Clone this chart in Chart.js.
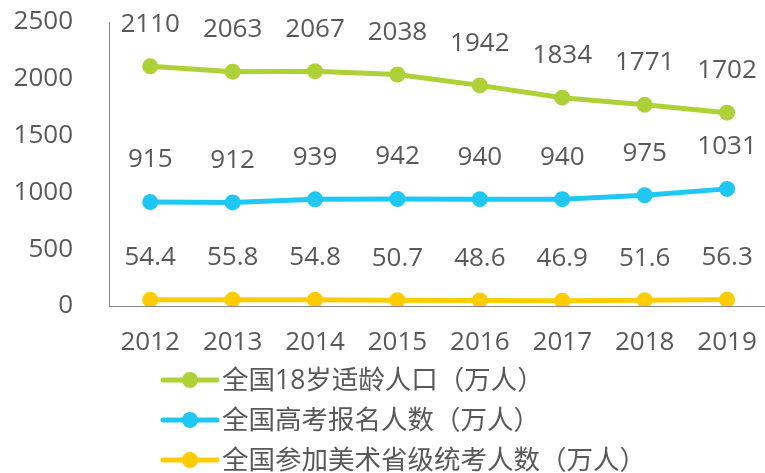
<!DOCTYPE html>
<html>
<head>
<meta charset="utf-8">
<script src="https://cdn.jsdelivr.net/npm/chart.js@4"></script>
<style>
  html, body { margin: 0; padding: 0; background: #fff; }
</style>
</head>
<body>
<canvas id="chart" width="765" height="473"></canvas>
<script>
// chart data
const years = [2012, 2013, 2014, 2015, 2016, 2017, 2018, 2019];
const population18 = [2110, 2063, 2067, 2038, 1942, 1834, 1771, 1702];
const gaokaoApplicants = [915, 912, 939, 942, 940, 940, 975, 1031];
const artExamTakers = [54.4, 55.8, 54.8, 50.7, 48.6, 46.9, 51.6, 56.3];
const yTicks = [0, 500, 1000, 1500, 2000, 2500];
const seriesNames = ['全国18岁适龄人口（万人）', '全国高考报名人数（万人）', '全国参加美术省级统考人数（万人）'];
const seriesColors = ['#ADD136', '#1FC8F2', '#FFCC00'];

const textColor = '#595959';
const fontFamily = "'Open Sans', 'Noto Sans CJK SC', sans-serif";

function makeSeries(idx, values) {
    return {
        label: seriesNames[idx],
        data: values.map((v, i) => ({ x: years[i], y: v })),
        borderColor: seriesColors[idx],
        backgroundColor: seriesColors[idx],
        borderWidth: 5,
        pointRadius: 8,
        pointHoverRadius: 8,
        pointBorderWidth: 0,
        tension: 0
    };
}

// value labels above each point
const valueLabels = {
    id: 'valueLabels',
    afterDatasetsDraw(chart) {
        const ctx = chart.ctx;
        ctx.save();
        ctx.font = '26px ' + fontFamily;
        ctx.fillStyle = textColor;
        ctx.textAlign = 'center';
        ctx.textBaseline = 'middle';
        chart.data.datasets.forEach((ds, i) => {
            chart.getDatasetMeta(i).data.forEach((pt, j) => {
                ctx.fillText(String(ds.data[j].y), pt.x, pt.y - 42);
            });
        });
        ctx.restore();
    }
};

// legend drawn as line + dot + text, stacked under the axis
const lineLegend = {
    id: 'lineLegend',
    afterDraw(chart) {
        const ctx = chart.ctx;
        const left = 163, rowTop = 380, rowGap = 40;
        ctx.save();
        ctx.font = '26.5px ' + fontFamily;
        ctx.textBaseline = 'middle';
        ctx.textAlign = 'left';
        chart.data.datasets.forEach((ds, i) => {
            const y = rowTop + i * rowGap;
            ctx.strokeStyle = ds.borderColor;
            ctx.lineWidth = 5;
            ctx.lineCap = 'round';
            ctx.beginPath();
            ctx.moveTo(left, y);
            ctx.lineTo(left + 54, y);
            ctx.stroke();
            ctx.fillStyle = ds.borderColor;
            ctx.beginPath();
            ctx.arc(left + 27, y, 8, 0, Math.PI * 2);
            ctx.fill();
            ctx.fillStyle = textColor;
            ctx.fillText(ds.label, left + 59, y + 1);
        });
        ctx.restore();
    }
};

new Chart(document.getElementById('chart'), {
    type: 'line',
    data: {
        datasets: [
            makeSeries(0, population18),
            makeSeries(1, gaokaoApplicants),
            makeSeries(2, artExamTakers)
        ]
    },
    options: {
        responsive: false,
        devicePixelRatio: 1,
        animation: false,
        // the x axis runs right up to the canvas edge, so no auto padding
        layout: { autoPadding: false, padding: { top: 22, right: 0, bottom: 0, left: 0 } },
        plugins: {
            legend: { display: false },
            tooltip: { enabled: false }
        },
        scales: {
            x: {
                type: 'linear',
                min: 2011.5,
                max: 2019.46,
                afterBuildTicks: (scale) => { scale.ticks = years.map(v => ({ value: v })); },
                afterFit: (scale) => {
                    scale.height = 167;
                    scale.paddingLeft = 0;
                    scale.paddingRight = 0;
                },
                grid: { display: false, drawTicks: false },
                border: { color: '#868686', width: 1 },
                ticks: {
                    padding: 21,
                    color: textColor,
                    font: { size: 26, family: fontFamily },
                    callback: (v) => String(v),
                    maxRotation: 0,
                    autoSkip: false
                }
            },
            y: {
                min: 0,
                max: 2500,
                afterBuildTicks: (scale) => { scale.ticks = yTicks.map(v => ({ value: v })); },
                afterFit: (scale) => {
                    // tick padding would otherwise push the plot down
                    scale.width = 109;
                    scale.paddingTop = 0;
                    scale.paddingBottom = 0;
                },
                grid: { display: false, drawTicks: false },
                border: { color: '#868686', width: 1 },
                ticks: {
                    padding: 36,
                    color: textColor,
                    font: { size: 26, family: fontFamily },
                    callback: (v) => String(v)
                }
            }
        }
    },
    plugins: [valueLabels, lineLegend]
});
</script>
</body>
</html>
